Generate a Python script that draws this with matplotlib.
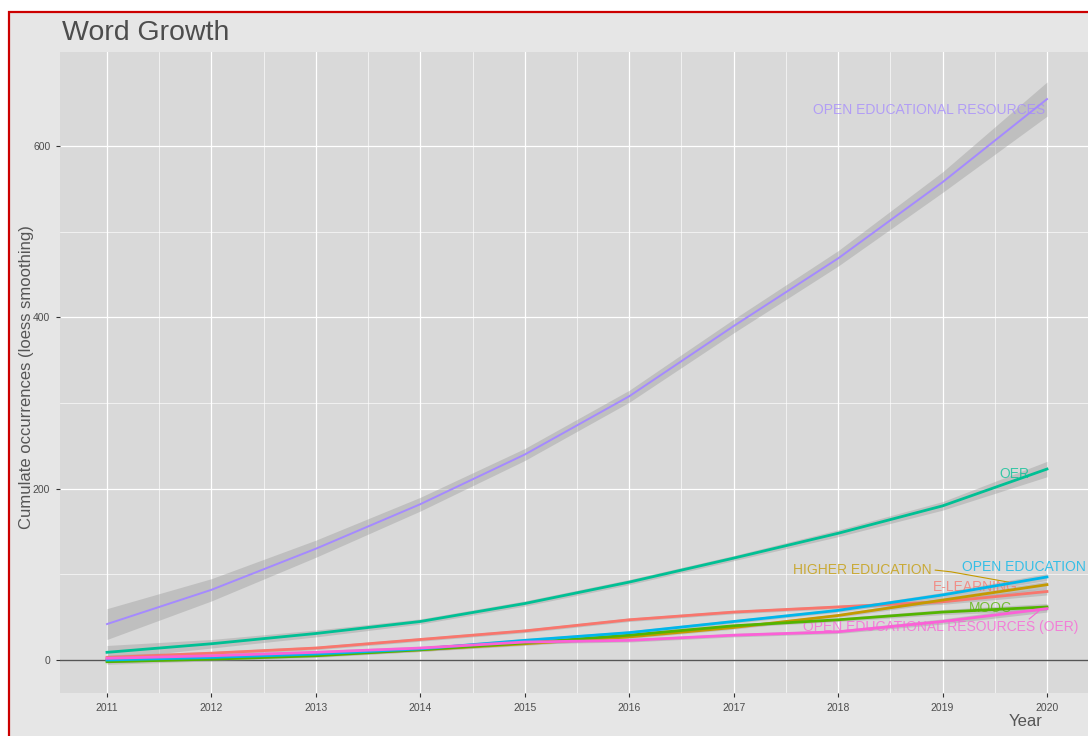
import matplotlib
matplotlib.use("Agg")
import matplotlib.pyplot as plt
from matplotlib.patches import Rectangle
import numpy as np

plt.rcParams['font.family'] = ['Liberation Sans', 'DejaVu Sans']

# loess-smoothed cumulative counts
years = [2011, 2012, 2013, 2014, 2015, 2016, 2017, 2018, 2019, 2020]

oer_long = [42, 82, 130, 182, 240, 308, 390, 469, 558, 655]
oer = [9, 19, 31, 45, 66, 91, 119, 148, 180, 223]
elearning = [3, 8, 14, 24, 34, 47, 56, 62, 68, 80]
open_education = [0, 3, 7, 13, 23, 32, 45, 58, 76, 97]
higher_education = [0, 2, 6, 12, 19, 27, 38, 52, 70, 88]
mooc = [-2, 1, 5, 12, 20, 29, 40, 47, 56, 62]
oer_paren = [2, 5, 9, 14, 21, 23, 29, 33, 45, 60]

# half-width of the confidence band
se_oer_long = [18, 13, 10, 8, 7, 7, 8, 9, 12, 20]
se_oer = [8, 5, 4, 3, 3, 3, 3, 4, 5, 9]
se_small = [3, 2, 2, 2, 2, 2, 2, 2, 3, 4]

names = ["E-LEARNING", "HIGHER EDUCATION", "MOOC", "OER", "OPEN EDUCATION",
         "OPEN EDUCATIONAL RESOURCES", "OPEN EDUCATIONAL RESOURCES (OER)"]
series = [elearning, higher_education, mooc, oer, open_education, oer_long, oer_paren]
bands = [se_small, se_small, se_small, se_oer, se_small, se_oer_long, se_small]
colors = ["#F8766D", "#C49A00", "#53B400", "#00C094", "#00B6EB", "#A58AFF", "#FB61D7"]

# label positions (x, y, ha)
label_pos = {
    "OPEN EDUCATIONAL RESOURCES": (2019.98, 642, "right"),
    "OER": (2019.69, 217, "center"),
    "HIGHER EDUCATION": (2018.9, 105, "right"),
    "OPEN EDUCATION": (2019.19, 108.5, "left"),
    "E-LEARNING": (2019.31, 85.5, "center"),
    "MOOC": (2019.46, 61, "center"),
    "OPEN EDUCATIONAL RESOURCES (OER)": (2017.66, 38.5, "left"),
}
segments = {
    "HIGHER EDUCATION": ([2018.93, 2019.08, 2019.63], [105, 103, 91]),
    "OPEN EDUCATIONAL RESOURCES (OER)": ([2019.83, 2019.92], [48, 57]),
}

fig = plt.figure(figsize=(10.88, 7.36), dpi=100, facecolor="white")
fig.add_artist(Rectangle((9/1088, -0.05), 1.1, 1 - 12/736 + 0.05,
                         transform=fig.transFigure, facecolor="#e6e6e6",
                         edgecolor="#cc0000", lw=1.6, zorder=0))

ax = fig.add_axes([60/1088, 43/736, 1034/1088, 641/736])
ax.set_facecolor("#d9d9d9")
for s in ax.spines.values():
    s.set_visible(False)

ax.set_xticks(years)
ax.set_xticks(np.arange(2010.5, 2020.6, 1), minor=True)
ax.set_yticks([0, 200, 400, 600])
ax.set_yticks([100, 300, 500], minor=True)
ax.set_xlim(2010.55, 2020.45)
ax.set_ylim(-38.5, 710)
ax.grid(True, which="major", color="white", lw=0.9)
ax.grid(True, which="minor", color="white", lw=0.45)
ax.set_axisbelow(True)
ax.tick_params(which="major", length=3, width=0.8, color="#333333",
               labelsize=7.5, labelcolor="#4d4d4d", pad=4)
ax.tick_params(which="minor", length=0)

ax.axhline(0, color="#555555", lw=1.0, zorder=1)

for name, vals, se, c in zip(names, series, bands, colors):
    v = np.array(vals, dtype=float)
    e = np.array(se, dtype=float)
    ax.fill_between(years, v - e, v + e, color="#999999", alpha=0.4, lw=0, zorder=2)

for name, c in zip(names, colors):
    x, y, ha = label_pos[name]
    ax.text(x, y, name, color=c, fontsize=10, ha=ha, va="center", alpha=0.75, zorder=3)
    if name in segments:
        sx, sy = segments[name]
        ax.plot(sx, sy, color=c, lw=0.8, zorder=3)

for name, vals, c in zip(names, series, colors):
    lw = 1.4 if name == "OPEN EDUCATIONAL RESOURCES" else 2.0
    ax.plot(years, vals, color=c, lw=lw, zorder=4)

fig.text(62/1088, 1 - 33/736, "Word Growth", fontsize=20.5, color="#4d4d4d",
         ha="left", va="center")
fig.text(27/1088, 1 - 377/736, "Cumulate occurrences (loess smoothing)",
         fontsize=12, color="#555555", rotation=90, ha="center", va="center")
fig.text(1043/1088, 1 - 721/736, "Year", fontsize=12, color="#555555",
         ha="right", va="center")

plt.savefig("out.png", dpi=100, facecolor="white")
